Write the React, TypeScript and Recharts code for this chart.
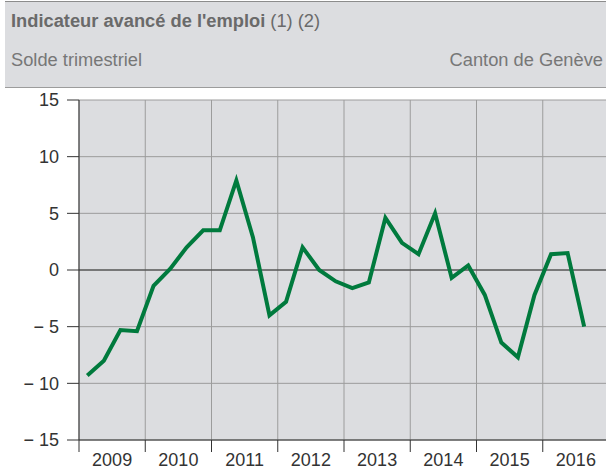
import { LineChart, Line, XAxis, YAxis, CartesianGrid, ReferenceLine } from "recharts"

// quarterly balance, 2009 Q1 .. 2016 Q3
const yearLabels = ["2009", "2010", "2011", "2012", "2013", "2014", "2015", "2016"]
const soldeValues = [
  -9.3, -8.0, -5.3, -5.4,
  -1.4, 0.1, 2.0, 3.5,
  3.5, 7.9, 2.9, -4.0,
  -2.8, 2.0, 0.0, -1.0,
  -1.6, -1.1, 4.6, 2.4,
  1.4, 5.0, -0.7, 0.4,
  -2.2, -6.4, -7.7, -2.2,
  1.4, 1.5, -5.0,
]
const yTicks = [-15, -10, -5, 0, 5, 10, 15]
const yearTicks = yearLabels.map((_, i) => i * 4).concat(yearLabels.length * 4)

const data = soldeValues.map((v, i) => ({ x: i + 0.5, value: v }))

const CHART_W = 610
const Y_AXIS_W = 79
const MARGIN_RIGHT = 1
const HALF_YEAR = (CHART_W - Y_AXIS_W - MARGIN_RIGHT) / yearLabels.length / 2
const FONT = '"Liberation Sans", Arial, sans-serif'

function YearTick(props: any) {
  const { x, y, payload } = props
  const label = yearLabels[payload.value / 4]
  if (!label) return null
  return (
    <text x={x + HALF_YEAR} y={y} dy="0.71em" textAnchor="middle" fill="#333" fontSize={18} fontFamily={FONT}>
      {label}
    </text>
  )
}

export default function App() {
  return (
    <div style={{ position: "absolute", left: 0, top: 0, width: 606, height: 472, overflow: "hidden", background: "#fff", fontFamily: FONT }}>
      <div
        style={{
          position: "absolute",
          left: 5,
          top: 1,
          width: 601,
          height: 85,
          background: "#dcdde0",
          borderTop: "1px solid #8c8c8c",
          borderBottom: "1px solid #9c9c9c",
        }}
      />
      <div style={{ position: "absolute", left: 11, top: 11, fontSize: 18.3, lineHeight: "20px", color: "#6a6a6a", whiteSpace: "nowrap" }}>
        <b>Indicateur avancé de l'emploi</b> (1) (2)
      </div>
      <div style={{ position: "absolute", left: 11, top: 50, fontSize: 18.3, lineHeight: "20px", color: "#777" }}>Solde trimestriel</div>
      <div style={{ position: "absolute", right: 3, top: 50, fontSize: 18.3, lineHeight: "20px", color: "#777" }}>Canton de Genève</div>

      <div style={{ position: "absolute", left: 0, top: 0 }}>
        <LineChart width={CHART_W} height={472} data={data} margin={{ top: 100, right: MARGIN_RIGHT, left: 0, bottom: 0 }}>
          <CartesianGrid fill="#dcdde0" stroke="#9c9c9c" strokeWidth={1} />
          <XAxis
            dataKey="x"
            type="number"
            domain={[0, yearLabels.length * 4]}
            ticks={yearTicks}
            interval={0}
            height={32}
            tickSize={12}
            tickMargin={1}
            tick={<YearTick />}
            stroke="#333"
            allowDataOverflow
          />
          <YAxis
            domain={[-15, 15]}
            ticks={yTicks}
            interval={0}
            width={Y_AXIS_W}
            tickSize={12}
            tickMargin={8}
            stroke="#333"
            tick={{ fill: "#333", fontSize: 18, fontFamily: FONT }}
            tickFormatter={(v: number) => (v < 0 ? `− ${Math.abs(v)}` : `${v}`)}
          />
          <ReferenceLine y={0} stroke="#333" strokeWidth={1} />
          <Line
            type="linear"
            dataKey="value"
            stroke="#007a3d"
            strokeWidth={4}
            dot={false}
            isAnimationActive={false}
          />
        </LineChart>
      </div>
    </div>
  )
}
